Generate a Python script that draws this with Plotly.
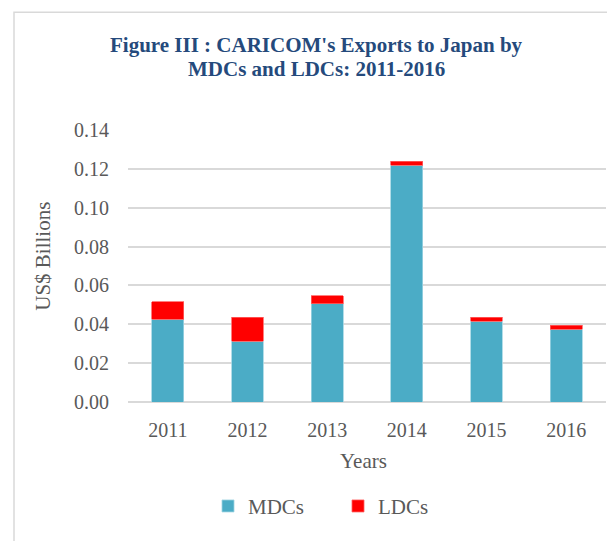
import plotly.graph_objects as go

years = ["2011", "2012", "2013", "2014", "2015", "2016"]
mdcs = [0.0425, 0.0313, 0.0506, 0.1219, 0.0415, 0.0374]
ldcs = [0.0092, 0.0122, 0.0041, 0.0020, 0.0020, 0.0020]
y_ticks = [0.00, 0.02, 0.04, 0.06, 0.08, 0.10, 0.12, 0.14]
title_lines = ["Figure III : CARICOM's Exports to Japan by", "MDCs and LDCs: 2011-2016"]

OFF = 8  # page body margin
W, H = 615, 541
L, R, T, B = 128 - OFF, 17, 130 - OFF, 138.5 + OFF
pw, ph = W - L - R, H - T - B

def px(x):
    return (x - OFF - L) / pw

def py(y):
    return (H - B - (y - OFF)) / ph

font_family = "Liberation Serif, Times New Roman, serif"
gray = "#595959"

fig = go.Figure()
fig.add_trace(go.Bar(x=years, y=mdcs, name="MDCs", marker=dict(color="#4BACC6", line=dict(color="#9FD4E2", width=0.8))))
fig.add_trace(go.Bar(x=years, y=ldcs, name="LDCs", marker=dict(color="#FF0000", line=dict(color="#FF6060", width=0.8))))

fig.update_layout(
    width=W, height=H,
    margin=dict(l=L, r=R, t=T, b=B, autoexpand=False),
    barmode="stack",
    bargap=0.6,
    plot_bgcolor="white",
    paper_bgcolor="white",
    font=dict(family=font_family, color=gray, size=20),
    showlegend=True,
    legend=dict(orientation="h", x=px(338), xanchor="center", y=py(507), yanchor="middle",
                traceorder="normal", font=dict(size=21, color=gray), itemwidth=30,
                entrywidth=85, tracegroupgap=0),
    xaxis=dict(showgrid=False, showline=False, ticks="", ticklabelstandoff=14,
               tickfont=dict(size=20, color=gray)),
    yaxis=dict(range=[0, 0.14], tickvals=y_ticks, tickformat=".2f", showgrid=True,
               gridcolor="#D9D9D9", gridwidth=1.5, zeroline=True, zerolinecolor="#D9D9D9",
               zerolinewidth=1.5, showline=False, ticks="", ticklabelstandoff=18,
               tickfont=dict(size=20, color=gray)),
)

for line, yy in zip(title_lines, [45, 69]):
    fig.add_annotation(text="<b>" + line + "</b>",
                       x=px(316), y=py(yy), xref="paper", yref="paper", showarrow=False,
                       xanchor="center", yanchor="middle",
                       font=dict(family=font_family, size=21, color="#254A7C"))
fig.add_annotation(text="US$ Billions", x=px(43), y=py(257), xref="paper", yref="paper",
                   showarrow=False, textangle=-90, xanchor="center", yanchor="middle",
                   font=dict(family=font_family, size=21, color=gray))
fig.add_annotation(text="Years", x=px(363), y=py(462), xref="paper", yref="paper",
                   showarrow=False, xanchor="center", yanchor="middle",
                   font=dict(family=font_family, size=21, color=gray))

fig.add_shape(type="rect", xref="paper", yref="paper",
              x0=px(14), x1=px(640), y0=py(12), y1=py(580),
              line=dict(color="#D9D9D9", width=1.5), fillcolor="rgba(0,0,0,0)", layer="below")

fig.write_html("out.html")
